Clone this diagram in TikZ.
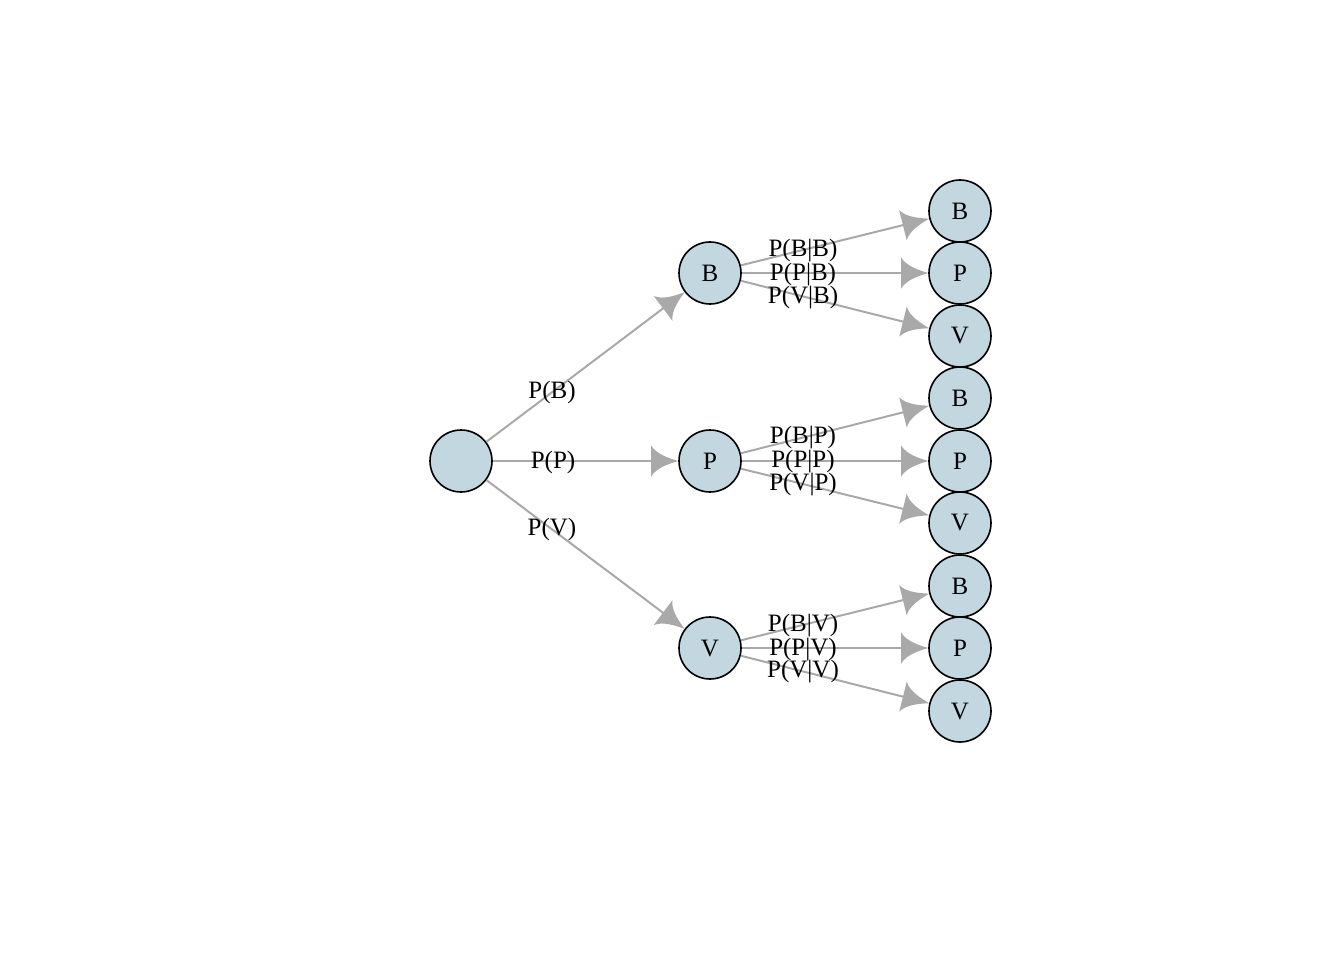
\documentclass[tikz,border=0pt]{standalone}
\usepackage{fontspec}
\setmainfont{Liberation Serif}
\usetikzlibrary{arrows.meta}
\definecolor{nodefill}{HTML}{C3D7E0}
\definecolor{edgegray}{HTML}{A9A9A9}
\pgfdeclarearrow{
  name=igraphtip,
  setup code={
    \pgfarrowssettipend{0pt}
    \pgfarrowssetlineend{-20pt}
    \pgfarrowssetbackend{-27pt}
    \pgfarrowssetvisualbackend{-27pt}
  },
  drawing code={
    \pgfpathmoveto{\pgfpoint{0pt}{0pt}}
    \pgfpathcurveto{\pgfpoint{-10pt}{3pt}}{\pgfpoint{-22pt}{7pt}}{\pgfpoint{-27pt}{15.5pt}}
    \pgfpathlineto{\pgfpoint{-27pt}{-15.5pt}}
    \pgfpathcurveto{\pgfpoint{-22pt}{-7pt}}{\pgfpoint{-10pt}{-3pt}}{\pgfpoint{0pt}{0pt}}
    \pgfpathclose
    \pgfusepathqfill
  }
}
\tikzset{
  vert/.style={circle, draw=black, line width=1.6pt, fill=nodefill, minimum size=62pt, inner sep=0pt, font=\fontsize{25}{25}\selectfont},
  edge/.style={draw=edgegray, line width=2pt, -igraphtip},
  elab/.style={font=\fontsize{25}{25}\selectfont, inner sep=0pt}
}
\begin{document}
\begin{tikzpicture}[x=1pt, y=-1pt]
\useasboundingbox (0,0) rectangle (1344,960);
\node[vert] (r) at (461,461) {};
\node[vert] (B) at (710,273) {B};
\node[vert] (P) at (710,461) {P};
\node[vert] (V) at (710,648) {V};
\node[vert] (BB) at (960,211) {B};
\node[vert] (BP) at (960,273) {P};
\node[vert] (BV) at (960,336) {V};
\node[vert] (PB) at (960,398) {B};
\node[vert] (PP) at (960,461) {P};
\node[vert] (PV) at (960,523) {V};
\node[vert] (VB) at (960,586) {B};
\node[vert] (VP) at (960,648) {P};
\node[vert] (VV) at (960,711) {V};
\foreach \a/\b in {r/B,r/P,r/V,B/BB,B/BP,B/BV,P/PB,P/PP,P/PV,V/VB,V/VP,V/VV}
  \draw[edge] (\a) -- (\b);
\node[elab] (lB) at (552,392) {P(B)};
\node[elab] (lP) at (553,462) {P(P)};
\node[elab] (lV) at (552,529) {P(V)};
\node[elab] (lBB) at (803,251) {P(B|B)};
\node[elab] (lBP) at (803,275) {P(P|B)};
\node[elab] (lBV) at (803,298) {P(V|B)};
\node[elab] (lPB) at (803,438) {P(B|P)};
\node[elab] (lPP) at (803,462) {P(P|P)};
\node[elab] (lPV) at (803,485) {P(V|P)};
\node[elab] (lVB) at (803,626) {P(B|V)};
\node[elab] (lVP) at (803,650) {P(P|V)};
\node[elab] (lVV) at (803,672) {P(V|V)};
\end{tikzpicture}
\end{document}
